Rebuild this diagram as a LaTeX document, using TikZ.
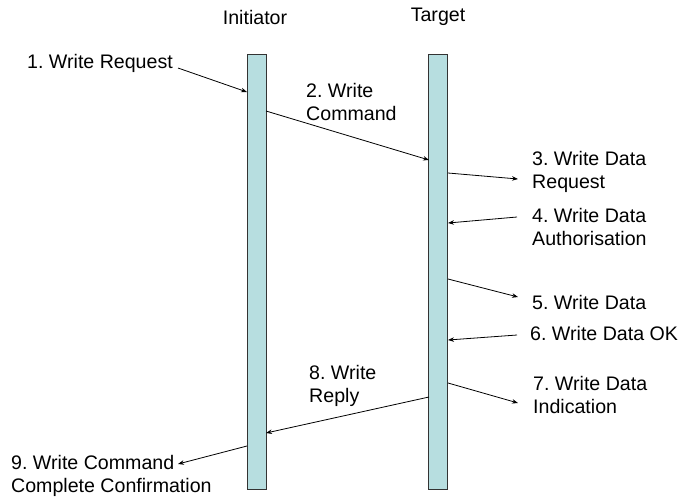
\documentclass[tikz,border=0pt]{standalone}
\usepackage{fontspec}
\setmainfont{Liberation Sans}
\usetikzlibrary{arrows.meta}
\definecolor{barfill}{RGB}{183,222,224}
\frenchspacing
\tikzset{
  bar/.style={draw=black!80, line width=0.9pt, fill=barfill, minimum width=19pt, minimum height=435pt, inner sep=0pt},
  lbl/.style={inner sep=0pt, anchor=west, align=left, font=\fontsize{19.6}{23}\selectfont\frenchspacing},
  ttl/.style={inner sep=0pt, font=\fontsize{19.6}{23}\selectfont},
  msg/.style={line width=0.8pt, -{Stealth[length=6pt,width=4.5pt]}}
}
\begin{document}
\begin{tikzpicture}[x=1pt,y=-1pt]
\useasboundingbox (0,0) rectangle (683,499);
% lifelines
\node[bar] (ibar) at (256.5,271.5) {};
\node[bar] (tbar) at (438,271.5) {};
\node[ttl] (init) at (255,17) {Initiator};
\node[ttl] (targ) at (438,17) {Target};
% labels
\node[lbl] (l1) at (27,63) {1. Write Request};
\node[lbl] (l2) at (306,102) {2. Write\\Command};
\node[lbl] (l3) at (532,172) {3. Write Data\\Request};
\node[lbl] (l4) at (532,226.5) {4. Write Data\\Authorisation};
\node[lbl] (l5) at (532,302) {5. Write Data};
\node[lbl] (l6) at (530,333) {6. Write Data OK};
\node[lbl] (l7) at (533,395) {7. Write Data\\Indication};
\node[lbl] (l8) at (309,386) {8. Write\\Reply};
\node[lbl] (l9) at (11,475.5) {9. Write Command\\Complete Confirmation};
% endpoints
\coordinate (a1s) at (178,68);  \coordinate (a1e) at (247,92);
\coordinate (a2s) at (266,111); \coordinate (a2e) at (429,160);
\coordinate (a3s) at (448,173); \coordinate (a3e) at (518,179);
\coordinate (a4s) at (517,217); \coordinate (a4e) at (448,223);
\coordinate (a5s) at (448,279); \coordinate (a5e) at (518,297);
\coordinate (a6s) at (517,335); \coordinate (a6e) at (448,340);
\coordinate (a7s) at (448,383); \coordinate (a7e) at (518,403);
\coordinate (a8s) at (429,397); \coordinate (a8e) at (266,433);
\coordinate (a9s) at (247,446); \coordinate (a9e) at (178,464);
% messages
\draw[msg] (a1s) -- (a1e);
\draw[msg] (a2s) -- (a2e);
\draw[msg] (a3s) -- (a3e);
\draw[msg] (a4s) -- (a4e);
\draw[msg] (a5s) -- (a5e);
\draw[msg] (a6s) -- (a6e);
\draw[msg] (a7s) -- (a7e);
\draw[msg] (a8s) -- (a8e);
\draw[msg] (a9s) -- (a9e);
\end{tikzpicture}
\end{document}
